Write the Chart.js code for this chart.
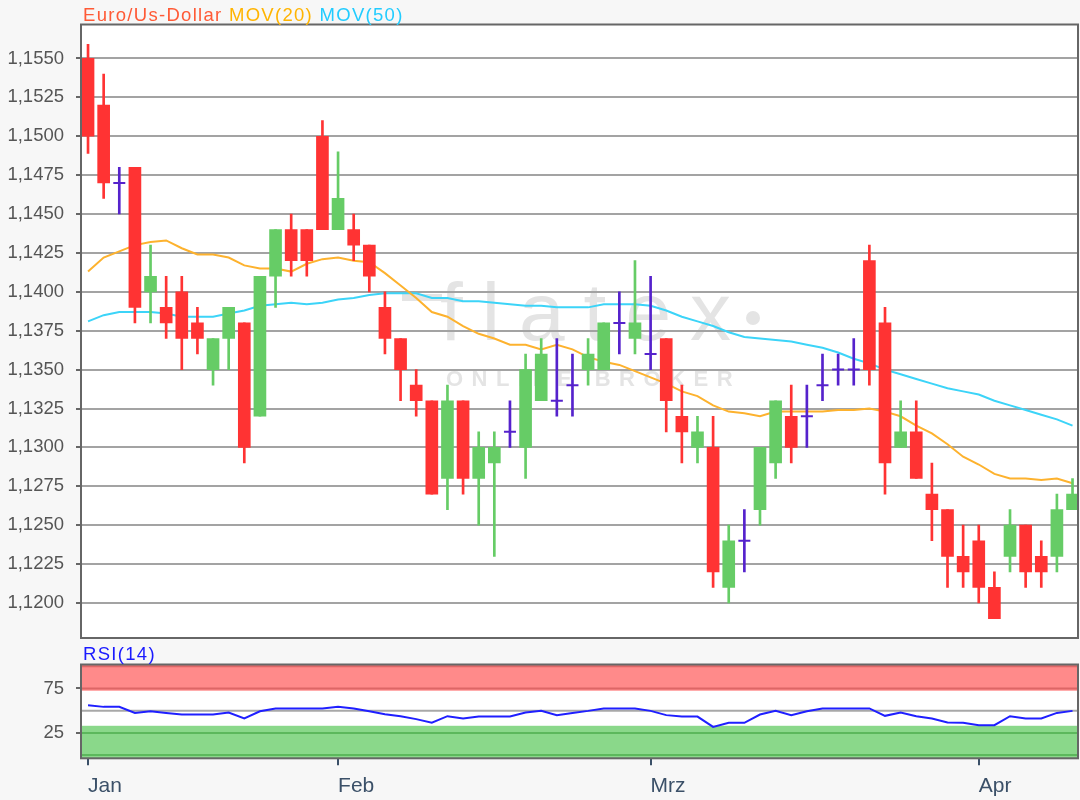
<!DOCTYPE html>
<html>
<head>
<meta charset="utf-8">
<script src="https://cdn.jsdelivr.net/npm/chart.js@4.4.1/dist/chart.umd.min.js"></script>
<style>
  html, body { margin: 0; padding: 0; background: #f7f7f7; }
  #wrap { position: relative; width: 1080px; height: 800px; }
  #price-chart { position: absolute; left: 0; top: 0; }
  #rsi-chart { position: absolute; left: 0; top: 640px; }
</style>
</head>
<body>
<div id="wrap">
  <canvas id="price-chart" width="1080" height="645"></canvas>
  <canvas id="rsi-chart" width="1080" height="160"></canvas>
</div>
<script>
// daily Euro/US-Dollar candles, Jan - Apr
const opens  = [1.1550,1.1520,1.1470,1.1480,1.1400,1.1390,1.1400,1.1380,1.1350,1.1370,
                1.1380,1.1320,1.1410,1.1440,1.1440,1.1500,1.1440,1.1440,1.1430,1.1390,
                1.1370,1.1340,1.1330,1.1280,1.1330,1.1280,1.1290,1.1310,1.1300,1.1330,
                1.1330,1.1340,1.1350,1.1350,1.1380,1.1370,1.1360,1.1370,1.1320,1.1300,
                1.1300,1.1210,1.1240,1.1260,1.1290,1.1320,1.1320,1.1340,1.1350,1.1350,
                1.1420,1.1380,1.1300,1.1310,1.1270,1.1260,1.1230,1.1240,1.1210,1.1230,
                1.1250,1.1230,1.1230,1.1260];
const highs  = [1.1559,1.1540,1.1480,1.1480,1.1430,1.1410,1.1410,1.1390,1.1370,1.1390,
                1.1380,1.1410,1.1440,1.1450,1.1440,1.1510,1.1490,1.1450,1.1430,1.1400,
                1.1370,1.1350,1.1330,1.1340,1.1330,1.1310,1.1310,1.1330,1.1360,1.1370,
                1.1370,1.1360,1.1370,1.1380,1.1400,1.1420,1.1410,1.1370,1.1340,1.1320,
                1.1320,1.1250,1.1260,1.1300,1.1330,1.1340,1.1340,1.1360,1.1360,1.1370,
                1.1430,1.1390,1.1330,1.1330,1.1290,1.1260,1.1250,1.1250,1.1220,1.1260,
                1.1250,1.1240,1.1270,1.1280];
const lows   = [1.1489,1.1460,1.1450,1.1380,1.1380,1.1370,1.1350,1.1360,1.1340,1.1350,
                1.1290,1.1320,1.1390,1.1410,1.1410,1.1440,1.1440,1.1420,1.1400,1.1360,
                1.1330,1.1320,1.1270,1.1260,1.1270,1.1250,1.1230,1.1300,1.1280,1.1330,
                1.1320,1.1320,1.1340,1.1350,1.1360,1.1360,1.1350,1.1310,1.1290,1.1290,
                1.1210,1.1200,1.1220,1.1250,1.1280,1.1290,1.1300,1.1330,1.1340,1.1340,
                1.1340,1.1270,1.1300,1.1280,1.1240,1.1210,1.1210,1.1200,1.1190,1.1220,
                1.1210,1.1210,1.1220,1.1260];
const closes = [1.1500,1.1470,1.1470,1.1390,1.1410,1.1380,1.1370,1.1370,1.1370,1.1390,
                1.1300,1.1410,1.1440,1.1420,1.1420,1.1440,1.1460,1.1430,1.1410,1.1370,
                1.1350,1.1330,1.1270,1.1330,1.1280,1.1300,1.1300,1.1310,1.1350,1.1360,
                1.1330,1.1340,1.1360,1.1380,1.1380,1.1380,1.1360,1.1330,1.1310,1.1310,
                1.1220,1.1240,1.1240,1.1300,1.1330,1.1300,1.1320,1.1340,1.1350,1.1350,
                1.1350,1.1290,1.1310,1.1280,1.1260,1.1230,1.1220,1.1210,1.1190,1.1250,
                1.1220,1.1220,1.1260,1.1270];

const mov20 = [1.1413,1.1422,1.1426,1.1430,1.1432,1.1433,1.1428,1.1424,1.1424,1.1422,
               1.1417,1.1415,1.1415,1.1413,1.1418,1.1421,1.1422,1.1420,1.1419,1.1412,
               1.1404,1.1396,1.1387,1.1384,1.1378,1.1373,1.1370,1.1366,1.1366,1.1363,
               1.1366,1.1363,1.1358,1.1355,1.1353,1.1349,1.1345,1.1341,1.1336,1.1333,
               1.1327,1.1323,1.1322,1.1320,1.1323,1.1323,1.1323,1.1323,1.1324,1.1324,
               1.1325,1.1323,1.1320,1.1314,1.1309,1.1302,1.1294,1.1289,1.1283,1.1280,
               1.1280,1.1279,1.1280,1.1277];
const mov50 = [1.1381,1.1385,1.1387,1.1387,1.1387,1.1386,1.1384,1.1384,1.1384,1.1386,
               1.1388,1.1391,1.1392,1.1393,1.1392,1.1393,1.1395,1.1396,1.1398,1.1399,
               1.1399,1.1399,1.1396,1.1396,1.1394,1.1394,1.1393,1.1392,1.1391,1.1391,
               1.1390,1.1390,1.1390,1.1392,1.1392,1.1392,1.1391,1.1388,1.1384,1.1381,
               1.1378,1.1374,1.1371,1.1370,1.1369,1.1368,1.1366,1.1364,1.1361,1.1357,
               1.1354,1.1350,1.1347,1.1344,1.1341,1.1338,1.1336,1.1334,1.1330,1.1327,
               1.1324,1.1321,1.1318,1.1314];
const rsi14 = [56.2,54.3,54.3,47.5,49.4,47.5,45.7,45.7,45.7,48.0,
               41.2,49.4,52.5,52.5,52.5,52.5,54.3,52.5,49.4,46.0,
               43.8,40.5,36.4,43.8,41.2,43.4,43.4,43.4,48.0,49.8,
               45.0,47.5,49.8,52.5,52.5,52.5,49.8,45.0,43.4,43.4,
               31.8,36.3,36.3,45.7,49.8,45.0,49.4,52.5,52.5,52.5,
               52.5,44.2,48.0,43.8,41.2,36.7,36.3,33.7,33.7,43.8,
               41.2,41.2,47.5,49.8];

const monthLabels = ['Jan', 'Feb', 'Mrz', 'Apr'];
const monthTicks = [0, 16, 36, 57];          // candle index where each month starts
const priceTicks = [1.1200, 1.1225, 1.1250, 1.1275, 1.1300, 1.1325, 1.1350, 1.1375,
                    1.1400, 1.1425, 1.1450, 1.1475, 1.1500, 1.1525, 1.1550];
const rsiTicks = [25, 75];

const FONT = "'Liberation Sans', Arial, sans-serif";
const RED = '#ff3333';
const GREEN = '#66cc66';
const DOJI = '#5522cc';
const X_MIN = -0.45;
const X_MAX = 63.35;

Chart.defaults.font.family = FONT;
Chart.defaults.animation = false;

const idx = closes.map((c, i) => i);
const isDoji = (i) => closes[i] === opens[i];
const candleColor = (i) => isDoji(i) ? DOJI : (closes[i] > opens[i] ? GREEN : RED);

const bodyIdx = idx.filter((i) => !isDoji(i));
const dojiIdx = idx.filter(isDoji);

// fixed axis width, and no extra room for half a label above / below
const fitYAxis = (scale) => {
    scale.width = 81;
    scale.paddingTop = 0;
    scale.paddingBottom = 0;
};

// light background, white plot area, watermark
const backdrop = {
    id: 'backdrop',
    beforeDraw: (chart, args, opts) => {
        const {ctx, chartArea: a} = chart;
        ctx.save();
        ctx.fillStyle = '#f7f7f7';
        ctx.fillRect(0, 0, chart.width, chart.height);
        ctx.fillStyle = '#ffffff';
        ctx.fillRect(a.left, a.top, a.right - a.left, a.bottom - a.top);
        if (opts.watermark) {
            ctx.fillStyle = '#e4e4e4';
            ctx.textBaseline = 'alphabetic';
            ctx.font = `82px ${FONT}`;
            ctx.letterSpacing = '19px';
            ctx.fillText('flatex', 440, 340);
            ctx.beginPath();
            ctx.arc(753, 318, 7, 0, Math.PI * 2);
            ctx.fill();
            ctx.fillRect(402, 294, 40, 7);
            ctx.font = `bold 22px ${FONT}`;
            ctx.letterSpacing = '8.5px';
            ctx.fillText('ONLINE BROKER', 446, 386);
        }
        ctx.restore();
    }
};

// dark frame round the plot area and the coloured title line
const frame = {
    id: 'frame',
    afterDraw: (chart, args, opts) => {
        const {ctx, chartArea: a} = chart;
        ctx.save();
        ctx.strokeStyle = '#666666';
        ctx.lineWidth = 2;
        ctx.strokeRect(a.left, a.top, a.right - a.left, a.bottom - a.top);
        ctx.font = `18.5px ${FONT}`;
        ctx.letterSpacing = '1.3px';
        ctx.textBaseline = 'alphabetic';
        let x = 83;
        (opts.title || []).forEach(([text, color]) => {
            ctx.fillStyle = color;
            ctx.fillText(text, x, opts.titleY);
            x += ctx.measureText(text + ' ').width;
        });
        ctx.restore();
    }
};

// overbought / oversold zones of the RSI panel
const rsiZones = {
    id: 'rsiZones',
    beforeDatasetsDraw: (chart) => {
        const {ctx, chartArea: a, scales: {y}} = chart;
        const py = (v) => y.getPixelForValue(v);
        const hline = (v, color) => {
            ctx.strokeStyle = color;
            ctx.beginPath();
            ctx.moveTo(a.left, py(v));
            ctx.lineTo(a.right, py(v));
            ctx.stroke();
        };
        ctx.save();
        ctx.fillStyle = '#ff8a8a';
        ctx.fillRect(a.left, a.top, a.right - a.left, py(72.5) - a.top);
        ctx.fillStyle = '#8ad88a';
        ctx.fillRect(a.left, py(33), a.right - a.left, a.bottom - py(33));
        ctx.lineWidth = 2;
        hline(100, '#dd6666');
        hline(75, '#dd6666');
        hline(25, '#5cb85c');
        hline(0, '#5cb85c');
        hline(50, '#a8a8a8');
        ctx.restore();
    }
};

const priceChart = new Chart(document.querySelector('#price-chart'), {
    type: 'bar',
    data: {
        datasets: [
            {
                label: 'body',
                data: bodyIdx.map((i) => ({x: i, y: [opens[i], closes[i]]})),
                backgroundColor: bodyIdx.map(candleColor),
                barThickness: 12,
                grouped: false,
                borderWidth: 0,
                order: 0
            },
            {
                label: 'wick',
                data: idx.map((i) => ({x: i, y: [lows[i], highs[i]]})),
                backgroundColor: idx.map(candleColor),
                barThickness: 2,
                grouped: false,
                borderWidth: 0,
                order: 1
            },
            {
                type: 'scatter',
                label: 'doji',
                data: dojiIdx.map((i) => ({x: i, y: closes[i]})),
                pointStyle: 'line',
                pointRadius: 6,
                borderWidth: 2,
                borderColor: DOJI,
                order: 0
            },
            {
                type: 'line',
                label: 'MOV(20)',
                data: mov20.map((v, i) => ({x: i, y: v})),
                borderColor: '#fdb22e',
                borderWidth: 2,
                pointRadius: 0,
                order: 2
            },
            {
                type: 'line',
                label: 'MOV(50)',
                data: mov50.map((v, i) => ({x: i, y: v})),
                borderColor: '#3cd4f8',
                borderWidth: 2,
                pointRadius: 0,
                order: 2
            }
        ]
    },
    options: {
        responsive: false,
        devicePixelRatio: 1,
        layout: {autoPadding: false, padding: {top: 24.5, right: 2, bottom: 7, left: 0}},
        plugins: {
            legend: {display: false},
            tooltip: {enabled: false},
            backdrop: {watermark: true},
            frame: {
                titleY: 20.5,
                title: [['Euro/Us-Dollar', '#ff5a36'], ['MOV(20)', '#ffb400'], ['MOV(50)', '#22ccff']]
            }
        },
        scales: {
            x: {type: 'linear', min: X_MIN, max: X_MAX, offset: false, display: false},
            y: {
                type: 'linear',
                min: 1.11775,
                max: 1.15718,
                afterFit: fitYAxis,
                afterBuildTicks: (scale) => { scale.ticks = priceTicks.map((v) => ({value: v})); },
                ticks: {
                    callback: (v) => v.toFixed(4).replace('.', ','),
                    color: '#555555',
                    font: {size: 18.5},
                    padding: 12
                },
                grid: {color: '#a3a3a3', lineWidth: 2, tickLength: 5, tickColor: '#666666'},
                border: {display: false}
            }
        }
    },
    plugins: [backdrop, frame]
});

const rsiChart = new Chart(document.querySelector('#rsi-chart'), {
    type: 'line',
    data: {
        datasets: [{
            label: 'RSI(14)',
            data: rsi14.map((v, i) => ({x: i, y: v})),
            borderColor: '#1f1fff',
            borderWidth: 2,
            pointRadius: 0
        }]
    },
    options: {
        responsive: false,
        devicePixelRatio: 1,
        layout: {autoPadding: false, padding: {top: 24.5, right: 2, bottom: 0, left: 0}},
        plugins: {
            legend: {display: false},
            tooltip: {enabled: false},
            backdrop: {watermark: false},
            frame: {titleY: 20, title: [['RSI(14)', '#1a1aff']]}
        },
        scales: {
            x: {
                type: 'linear',
                min: X_MIN,
                max: X_MAX,
                offset: false,
                afterFit: (scale) => { scale.height = 41.7; },
                afterBuildTicks: (scale) => { scale.ticks = monthTicks.map((v) => ({value: v})); },
                ticks: {
                    callback: (v) => monthLabels[monthTicks.indexOf(v)],
                    align: 'start',
                    autoSkip: false,
                    maxRotation: 0,
                    color: '#3b5068',
                    font: {size: 21},
                    padding: 8
                },
                grid: {drawOnChartArea: false, tickLength: 7, tickColor: '#3b5068', lineWidth: 2},
                border: {display: false}
            },
            y: {
                type: 'linear',
                min: -3.6,
                max: 102,
                afterFit: fitYAxis,
                afterBuildTicks: (scale) => { scale.ticks = rsiTicks.map((v) => ({value: v})); },
                ticks: {color: '#555555', font: {size: 18.5}, padding: 12},
                grid: {drawOnChartArea: false, tickLength: 5, tickColor: '#666666', lineWidth: 2},
                border: {display: false}
            }
        }
    },
    plugins: [backdrop, rsiZones, frame]
});
</script>
</body>
</html>
